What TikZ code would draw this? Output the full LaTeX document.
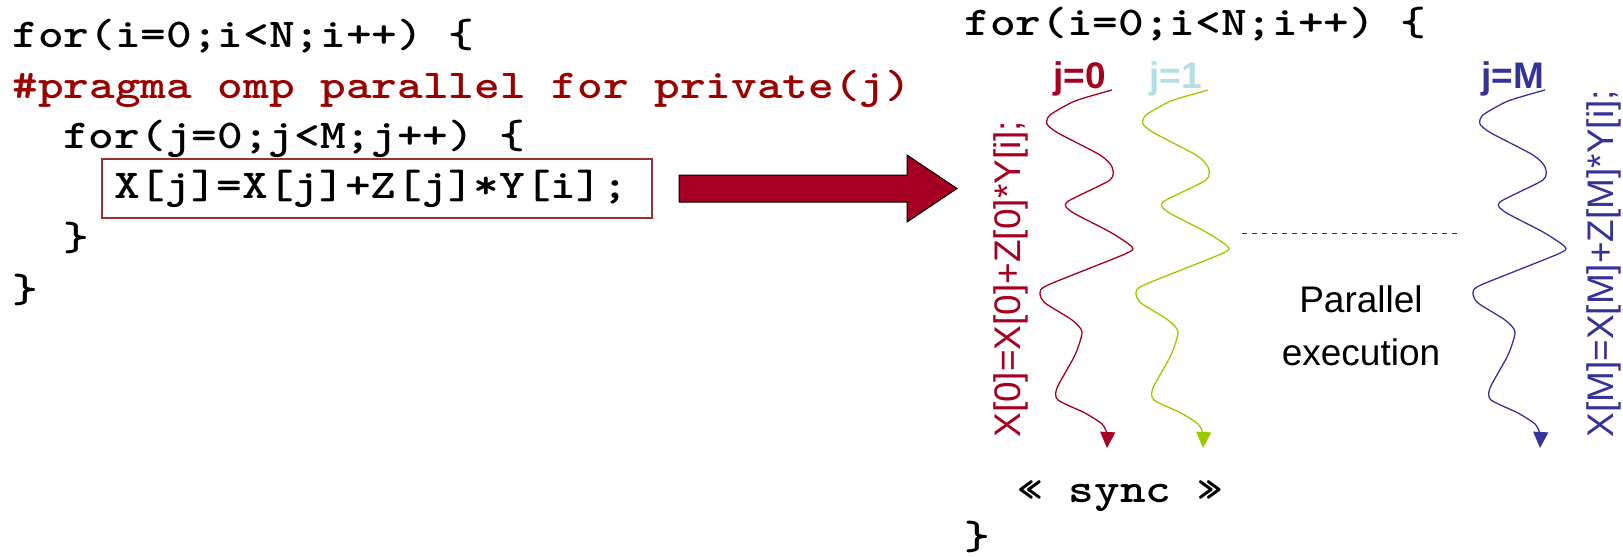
\documentclass[tikz,border=0pt]{standalone}
\usepackage{fontspec}
\newfontfamily\labelfont{Liberation Sans}
\usetikzlibrary{arrows.meta}

\definecolor{pragmared}{HTML}{990000}
\definecolor{crimson}{HTML}{A50021}
\definecolor{boxred}{HTML}{993333}
\definecolor{threadgreen}{HTML}{99CC00}
\definecolor{paleblue}{HTML}{B4DFE4}
\definecolor{threadblue}{HTML}{333399}

% typewriter code, widened to the usual 0.6em pitch
\newcommand\cd[1]{\scalebox{1.193}[1]{#1}}

\tikzset{
  code/.style={font=\ttfamily\bfseries\fontsize{20.5}{25}\selectfont, anchor=base west, inner sep=0pt},
  lbl/.style={font=\labelfont\bfseries\fontsize{18.5}{22}\selectfont, anchor=base west, inner sep=0pt},
  note/.style={font=\labelfont\fontsize{18.5}{22}\selectfont, anchor=base, inner sep=0pt},
  stmt/.style={font=\labelfont\fontsize{18.5}{22}\selectfont, rotate=90, anchor=base west, inner sep=0pt},
  thread/.style={line width=0.65pt, line join=round, -{Triangle[length=8pt,width=7.5pt]}},
}

\begin{document}
\begin{tikzpicture}[x=0.5pt, y=-0.5pt]
  \useasboundingbox (0,0) rectangle (1623,557);

  % sequential source code
  \node[code] (l1) at (12,47) {\cd{for(i=0;i<N;i++) \{}};
  \node[code, pragmared] (l2) at (12,98) {\cd{\#pragma omp parallel for private(j)}};
  \node[code] (l3) at (62.9,148) {\cd{for(j=0;j<M;j++) \{}};
  \node[code] (l4) at (113.8,198) {\cd{X[j]=X[j]+Z[j]*Y[i];}};
  \node[code] (l5) at (62.9,250) {\cd{\}}};
  \node[code] (l6) at (12,302) {\cd{\}}};
  \draw[boxred, line width=0.75pt] (102,159) rectangle (652,218);

  % big transformation arrow
  \draw[fill=crimson, draw=black, line width=0.5pt]
    (679,175) -- (907,175) -- (907,155) -- (957,188.5) -- (907,222) -- (907,202) -- (679,202) -- cycle;

  % parallel version
  \node[code] (r1) at (964,35) {\cd{for(i=0;i<N;i++) \{}};
  \node[code] (sync) at (1017,502) {\cd{« sync »}};
  \node[code] (r2) at (964,549) {\cd{\}}};

  \node[lbl, crimson] (j0) at (1053,88) {j=0};
  \node[lbl, paleblue] (j1) at (1149,88) {j=1};
  \node[lbl, threadblue] (jM) at (1481,88) {j=M};

  \node[stmt, crimson] (s0) at (1020,438) {X[0]=X[0]+Z[0]*Y[i];};
  \node[stmt, threadblue] (sM) at (1613,438) {X[M]=X[M]+Z[M]*Y[i];};

  % one wavy thread per iteration
  \foreach \name/\col/\dx in {t0/crimson/0, t1/threadgreen/96, tM/threadblue/433} {
    \coordinate (\name) at (1112+\dx,90);
    \begin{scope}[shift={(\name)}]
      \draw[thread, \col] plot[smooth, tension=0.4] coordinates {
        (0,0) (-37,11) (-62,25) (-65,34) (-54,43) (-12,65) (0,77) (-2,90)
        (-45,112) (-40,122) (-2,142) (20,157) (13,164) (-64,195) (-72,203)
        (-67,213) (-40,230) (-30,242) (-37,265) (-55,298) (-54,310) (-27,323)
        (-10,334) (-5,344) (-5,358)};
    \end{scope}
  }

  % elided threads
  \coordinate (dashA) at (1242,233);
  \coordinate (dashB) at (1462,233);
  \draw[black!80, line width=0.5pt, dash pattern=on 2.5pt off 2.5pt] (dashA) -- (dashB);

  \node[note] (par1) at (1361,312) {Parallel};
  \node[note] (par2) at (1361,365) {execution};
\end{tikzpicture}
\end{document}
